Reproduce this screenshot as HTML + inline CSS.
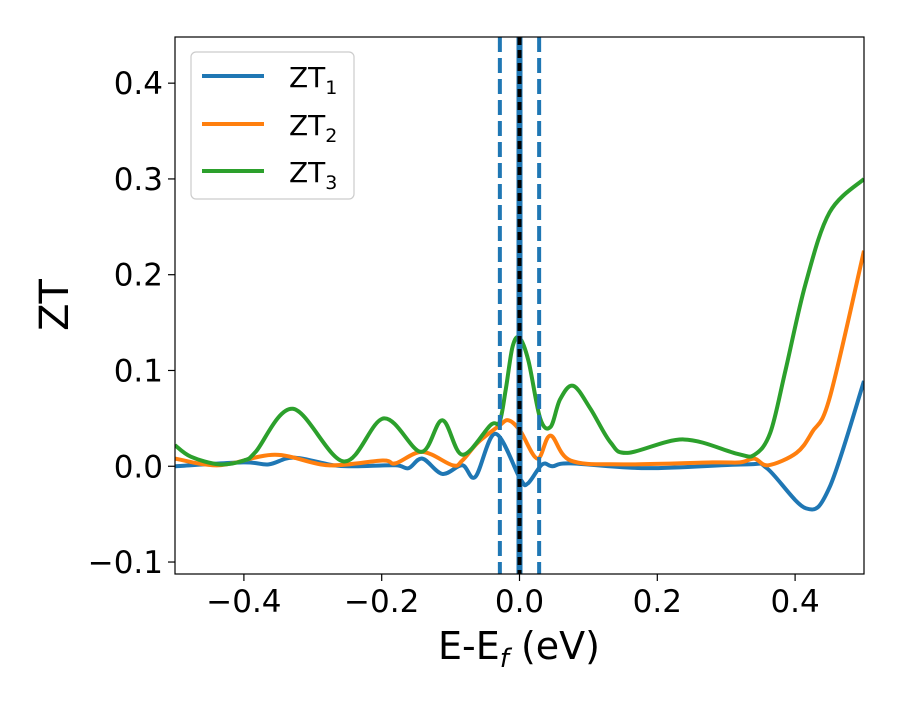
<!DOCTYPE html>
<html><head><meta charset="utf-8"><style>
body{margin:0;background:#fff;}
svg text{font-family:"DejaVu Sans","Liberation Sans",sans-serif;}
</style></head><body>
<svg id="chart" width="900" height="700" xmlns="http://www.w3.org/2000/svg">
<rect width="900" height="700" fill="#fff"/>
<g id="plot"></g>
</svg>
<script>
const xTicks=[-0.4,-0.2,0.0,0.2,0.4];
const xTickLabels=["\u22120.4","\u22120.2","0.0","0.2","0.4"];
const yTicks=[-0.1,0.0,0.1,0.2,0.3,0.4];
const yTickLabels=["\u22120.1","0.0","0.1","0.2","0.3","0.4"];
const zt1X=[-0.5,-0.401,-0.364,-0.328,-0.270,-0.238,-0.180,-0.161,-0.141,-0.112,-0.083,-0.064,-0.035,0.001,0.012,0.033,0.048,0.074,0.185,0.330,0.359,0.416,0.45,0.5];
const zt1Y=[0.0,0.004,0.002,0.009,0.001,0.0,0.001,-0.002,0.008,-0.008,0.001,-0.011,0.034,-0.013,-0.018,0.002,0.0,0.003,-0.002,0.002,-0.002,-0.044,-0.022,0.089];
const zt2X=[-0.5,-0.436,-0.355,-0.278,-0.199,-0.180,-0.141,-0.097,-0.083,-0.06,-0.03,-0.016,0.001,0.026,0.045,0.074,0.151,0.28,0.32,0.341,0.361,0.402,0.425,0.45,0.5];
const zt2Y=[0.008,0.001,0.012,0.001,0.006,0.003,0.015,0.001,0.006,0.025,0.042,0.048,0.037,0.008,0.032,0.006,0.002,0.004,0.004,0.008,0.001,0.014,0.036,0.071,0.225];
const zt3X=[-0.5,-0.477,-0.436,-0.400,-0.383,-0.329,-0.255,-0.197,-0.143,-0.112,-0.083,-0.042,-0.029,-0.020,-0.010,0.0,0.013,0.030,0.045,0.059,0.078,0.103,0.132,0.157,0.238,0.316,0.341,0.364,0.386,0.415,0.45,0.5];
const zt3Y=[0.022,0.010,0.002,0.006,0.015,0.060,0.005,0.050,0.015,0.048,0.012,0.043,0.046,0.080,0.125,0.134,0.110,0.050,0.041,0.070,0.084,0.060,0.025,0.014,0.028,0.013,0.012,0.035,0.100,0.190,0.265,0.300];
const vlines=[-0.0285,0.0285];
const L=175,R=864,T=37,B=574,xmin=-0.5,xmax=0.5,ymin=-0.1125,ymax=0.4482;
const sx=v=>L+(v-xmin)/(xmax-xmin)*(R-L);
const sy=v=>B-(v-ymin)/(ymax-ymin)*(B-T);
const NS="http://www.w3.org/2000/svg";
const g=document.getElementById('plot');
function mk(t,a,p){const e=document.createElementNS(NS,t);for(const k in a)e.setAttribute(k,a[k]);(p||g).appendChild(e);return e;}
const clip=mk('clipPath',{id:'cp'});mk('rect',{x:L,y:T,width:R-L,height:B-T},clip);
function path(xs,ys){const p=xs.map((x,i)=>[sx(x),sy(ys[i])]);let d='M'+p[0][0]+','+p[0][1];
for(let i=0;i<p.length-1;i++){const p0=p[Math.max(i-1,0)],p1=p[i],p2=p[i+1],p3=p[Math.min(i+2,p.length-1)];
d+=' C'+(p1[0]+(p2[0]-p0[0])/6)+','+(p1[1]+(p2[1]-p0[1])/6)+' '+(p2[0]-(p3[0]-p1[0])/6)+','+(p2[1]-(p3[1]-p1[1])/6)+' '+p2[0]+','+p2[1];}return d;}
const series=[[zt1X,zt1Y,'#1f77b4','zt1-line'],[zt2X,zt2Y,'#ff7f0e','zt2-line'],[zt3X,zt3Y,'#2ca02c','zt3-line']];
series.forEach(s=>{const e=mk('path',{d:path(s[0],s[1]),fill:'none',stroke:s[2],'stroke-width':4,'clip-path':'url(#cp)'});

});
vlines.forEach(v=>{const e=mk('line',{x1:sx(v),x2:sx(v),y1:T,y2:B,stroke:'#1f77b4','stroke-width':4,'stroke-dasharray':'15,6'});

});
const z1=mk('line',{x1:sx(0),x2:sx(0),y1:T,y2:B,stroke:'#1f77b4','stroke-width':6});


const z2=mk('line',{x1:sx(0),x2:sx(0),y1:T,y2:B,stroke:'#000','stroke-width':4,'stroke-dasharray':'8,5'});


const fr=mk('rect',{x:L,y:T,width:R-L,height:B-T,fill:'none',stroke:'#000','stroke-width':1.2});


xTicks.forEach((v,i)=>{mk('line',{x1:sx(v),x2:sx(v),y1:B,y2:B+7,stroke:'#000','stroke-width':1.2});
const t=mk('text',{x:sx(v),y:B+38,'font-size':31,'text-anchor':'middle'});t.textContent=xTickLabels[i];

});
yTicks.forEach((v,i)=>{mk('line',{x1:L-7,x2:L,y1:sy(v),y2:sy(v),stroke:'#000','stroke-width':1.2});
const t=mk('text',{x:L-12,y:sy(v)+11,'font-size':31,'text-anchor':'end'});t.textContent=yTickLabels[i];

});
</script>
<svg style="position:absolute;left:0;top:0" width="900" height="700" xmlns="http://www.w3.org/2000/svg">
<text x="519" y="659" font-size="38" text-anchor="middle" font-family="DejaVu Sans,Liberation Sans,sans-serif">E-E<tspan font-size="26" font-style="italic" dy="8">f</tspan><tspan dy="-8"> (eV)</tspan></text>
<text transform="translate(68,305) rotate(-90)" font-size="40" text-anchor="middle" font-family="DejaVu Sans,Liberation Sans,sans-serif">ZT</text>
<g font-family="DejaVu Sans,Liberation Sans,sans-serif" font-size="28">
<rect x="191" y="52" width="163" height="147" rx="5" fill="#fff" fill-opacity="0.85" stroke="#ccc" stroke-width="1.2"/>
<line x1="202" x2="264" y1="76" y2="76" stroke="#1f77b4" stroke-width="4"/>
<text x="289" y="87">ZT<tspan font-size="19" dy="7">1</tspan></text>
<line x1="202" x2="264" y1="124" y2="124" stroke="#ff7f0e" stroke-width="4"/>
<text x="289" y="135">ZT<tspan font-size="19" dy="7">2</tspan></text>
<line x1="202" x2="264" y1="171" y2="171" stroke="#2ca02c" stroke-width="4"/>
<text x="289" y="182">ZT<tspan font-size="19" dy="7">3</tspan></text>
</g>
</svg>
</body></html>
